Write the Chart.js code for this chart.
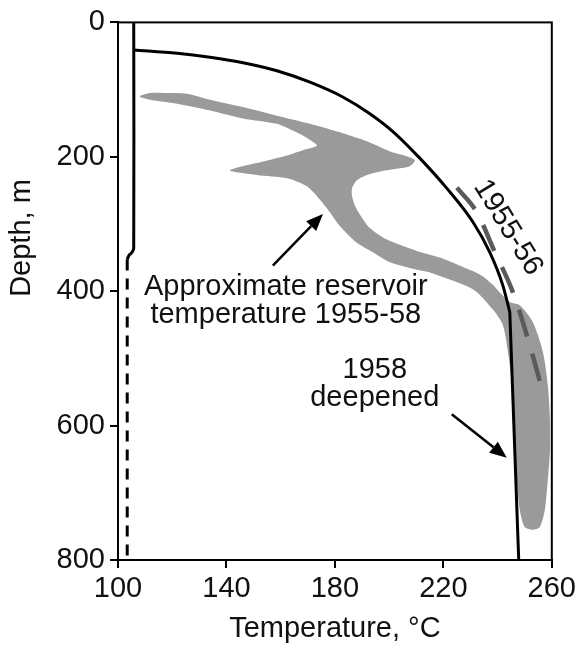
<!DOCTYPE html>
<html>
<head>
<meta charset="utf-8">
<script src="https://cdn.jsdelivr.net/npm/chart.js@4"></script>
<style>
  html, body { margin: 0; padding: 0; background: #fff; }
  #wrap { width: 580px; height: 648px; }
</style>
</head>
<body>
<div id="wrap"><canvas id="grafico-poco"></canvas></div>
<script>
// Temperaturas (°C) e profundidades (m) lidas da figura
// perfil 1958 (poço aprofundado) - parte curva
let tempPerfil1958 = [105.9, 121.8, 133.9, 146.1, 158.6, 170.8, 182.9, 192.9, 202.1, 211.3, 221.3, 230.9, 237.1, 241.9, 244.5]
let profPerfil1958 = [41, 46, 52, 60, 72, 89, 111, 136, 165, 202, 247, 297, 342, 391, 431]
// perfil 1958 - trecho reto até o fundo
let tempFundo1958 = [244.5, 247.8]
let profFundo1958 = [431, 800]
// linha próxima de 105 °C (sólida e depois tracejada)
let tempRevest = [105.8, 105.8, 105.2, 104.0, 103.4]
let profRevest = [0, 336, 342, 347, 353]
let tempRevestTrac = [103.4, 103.4]
let profRevestTrac = [353, 800]
// perfil 1955-56
let temp1955 = [225.0, 232.4, 239.0, 245.6, 251.2, 255.6]
let prof1955 = [246, 283, 342, 401, 471, 534]
// contorno da faixa de temperatura aproximada do reservatório 1955-58
let tempReservatorio = [108.1, 111.8, 117.3, 125.4, 133.9, 146.1, 158.6, 170.8, 182.9, 191.8, 200.3, 206.5, 209.5, 207.6, 204.0, 197.7, 191.8, 188.1, 186.3, 186.3, 187.4, 190.0, 192.9, 197.7, 204.0, 210.2, 218.7, 226.1, 233.5, 238.2, 240.8, 244.5, 248.2, 253.0, 256.7, 258.5, 259.3, 259.3, 258.5, 257.4, 255.6, 253.0, 250.0, 248.2, 247.1, 246.4, 245.6, 245.3, 243.8, 241.9, 238.2, 230.9, 215.0, 210.2, 200.3, 194.0, 188.1, 181.8, 178.2, 174.5, 169.7, 162.3, 151.2, 141.3, 153.5, 162.3, 168.9, 173.4, 168.9, 163.4, 158.6, 146.1, 133.9, 121.8, 111.8, 108.1]
let profReservatorio = [109, 105, 105, 106, 115, 126, 139, 151, 165, 177, 192, 199, 205, 214, 217, 221, 227, 235, 247, 258, 273, 291, 306, 320, 331, 340, 350, 362, 375, 390, 402, 416, 421, 446, 490, 539, 589, 638, 682, 726, 751, 755, 751, 726, 682, 638, 589, 539, 490, 450, 427, 397, 372, 368, 357, 342, 328, 303, 283, 264, 244, 232, 227, 220, 207, 198, 189, 183, 170, 159, 151, 143, 131, 121, 115, 111]
// ticks
let ticksTemp = [100, 140, 180, 220, 260]
let ticksProf = [0, 200, 400, 600, 800]

const fonte = '"Liberation Sans", Arial, Helvetica, sans-serif'

function pontos(xs, ys) {
    return xs.map((x, i) => ({ x: x, y: ys[i] }))
}

// moldura, setas e textos
const anotacoes = {
    id: 'anotacoes',
    afterDatasetsDraw(chart) {
        const ctx = chart.ctx
        const { left, top, right, bottom } = chart.chartArea
        const sx = chart.scales.x
        const sy = chart.scales.y
        ctx.save()
        ctx.strokeStyle = '#000'
        ctx.lineWidth = 2
        ctx.strokeRect(left, top, right - left, bottom - top)

        function seta(t0, d0, t1, d1) {
            const x0 = sx.getPixelForValue(t0), y0 = sy.getPixelForValue(d0)
            const x1 = sx.getPixelForValue(t1), y1 = sy.getPixelForValue(d1)
            const ang = Math.atan2(y1 - y0, x1 - x0)
            const comp = 17, larg = 7
            ctx.strokeStyle = '#000'
            ctx.fillStyle = '#000'
            ctx.lineWidth = 2.5
            ctx.beginPath()
            ctx.moveTo(x0, y0)
            ctx.lineTo(x1 - Math.cos(ang) * comp, y1 - Math.sin(ang) * comp)
            ctx.stroke()
            ctx.beginPath()
            ctx.moveTo(x1, y1)
            ctx.lineTo(x1 - Math.cos(ang) * comp - Math.sin(ang) * larg, y1 - Math.sin(ang) * comp + Math.cos(ang) * larg)
            ctx.lineTo(x1 - Math.cos(ang) * comp + Math.sin(ang) * larg, y1 - Math.sin(ang) * comp - Math.cos(ang) * larg)
            ctx.closePath()
            ctx.fill()
        }
        seta(157.1, 362, 175.6, 285)
        seta(223.1, 583, 243.4, 648)

        ctx.fillStyle = '#111'
        ctx.font = '29px ' + fonte
        ctx.textAlign = 'center'
        ctx.textBaseline = 'middle'
        ctx.fillText('Approximate reservoir', sx.getPixelForValue(161.9), sy.getPixelForValue(394))
        ctx.fillText('temperature 1955-58', sx.getPixelForValue(161.9), sy.getPixelForValue(435))
        ctx.fillText('1958', sx.getPixelForValue(194.7), sy.getPixelForValue(517))
        ctx.fillText('deepened', sx.getPixelForValue(194.7), sy.getPixelForValue(559))

        ctx.save()
        ctx.translate(sx.getPixelForValue(243.8), sy.getPixelForValue(305))
        ctx.rotate(58.5 * Math.PI / 180)
        ctx.fillText('1955-56', 0, 0)
        ctx.restore()

        // título do eixo y
        ctx.save()
        ctx.translate(22, 238)
        ctx.rotate(-Math.PI / 2)
        ctx.fillText('Depth, m', 0, 0)
        ctx.restore()
        ctx.restore()
    }
}

let graficoPoco = new Chart(
    document.getElementById('grafico-poco'),
    {
        type: 'scatter',
        data: {
            datasets: [
                {
                    label: '1958 deepened',
                    data: pontos(tempPerfil1958, profPerfil1958),
                    showLine: true,
                    borderColor: '#000',
                    borderWidth: 3,
                    pointRadius: 0,
                    cubicInterpolationMode: 'monotone',
                    order: 1
                },
                {
                    label: '1958 fundo',
                    data: pontos(tempFundo1958, profFundo1958),
                    showLine: true,
                    borderColor: '#000',
                    borderWidth: 3,
                    pointRadius: 0,
                    order: 1
                },
                {
                    label: 'revestimento',
                    data: pontos(tempRevest, profRevest),
                    showLine: true,
                    borderColor: '#000',
                    borderWidth: 3,
                    pointRadius: 0,
                    tension: 0.3,
                    order: 1
                },
                {
                    label: 'revestimento tracejado',
                    data: pontos(tempRevestTrac, profRevestTrac),
                    showLine: true,
                    borderColor: '#000',
                    borderWidth: 3,
                    borderDash: [11, 8],
                    pointRadius: 0,
                    order: 1
                },
                {
                    label: '1955-56',
                    data: pontos(temp1955, prof1955),
                    showLine: true,
                    borderColor: '#5a5a5a',
                    borderWidth: 4.5,
                    borderDash: [28, 18],
                    pointRadius: 0,
                    cubicInterpolationMode: 'monotone',
                    order: 2
                },
                {
                    label: 'Approximate reservoir temperature 1955-58',
                    data: pontos(tempReservatorio, profReservatorio),
                    showLine: true,
                    borderWidth: 0,
                    borderColor: 'rgba(0,0,0,0)',
                    backgroundColor: '#9a9a9a',
                    fill: 'shape',
                    pointRadius: 0,
                    tension: 0.25,
                    order: 3
                }
            ]
        },
        options: {
            responsive: true,
            maintainAspectRatio: false,
            animation: false,
            layout: {
                padding: { top: 18, right: 28, bottom: 0, left: 0 }
            },
            scales: {
                x: {
                    type: 'linear',
                    min: 100,
                    max: 260,
                    afterBuildTicks: (s) => { s.ticks = ticksTemp.map(v => ({ value: v })) },
                    afterFit: (s) => { s.height = 88 },
                    ticks: {
                        color: '#111',
                        font: { family: fonte, size: 29 },
                        padding: 4
                    },
                    grid: {
                        drawOnChartArea: false,
                        color: '#000',
                        lineWidth: 2,
                        tickLength: 8
                    },
                    border: { color: '#000', width: 2 },
                    title: {
                        display: true,
                        text: 'Temperature, °C',
                        color: '#111',
                        font: { family: fonte, size: 29 },
                        padding: { top: 0, bottom: 2 }
                    }
                },
                y: {
                    type: 'linear',
                    reverse: true,
                    min: 0,
                    max: 800,
                    afterBuildTicks: (s) => { s.ticks = ticksProf.map(v => ({ value: v })) },
                    afterFit: (s) => { s.width = 118 },
                    ticks: {
                        color: '#111',
                        font: { family: fonte, size: 29 },
                        padding: 5
                    },
                    grid: {
                        drawOnChartArea: false,
                        color: '#000',
                        lineWidth: 2,
                        tickLength: 8
                    },
                    border: { color: '#000', width: 2 }
                }
            },
            plugins: {
                legend: { display: false },
                tooltip: { enabled: false }
            }
        },
        plugins: [anotacoes]
    }
)
</script>
</body>
</html>
